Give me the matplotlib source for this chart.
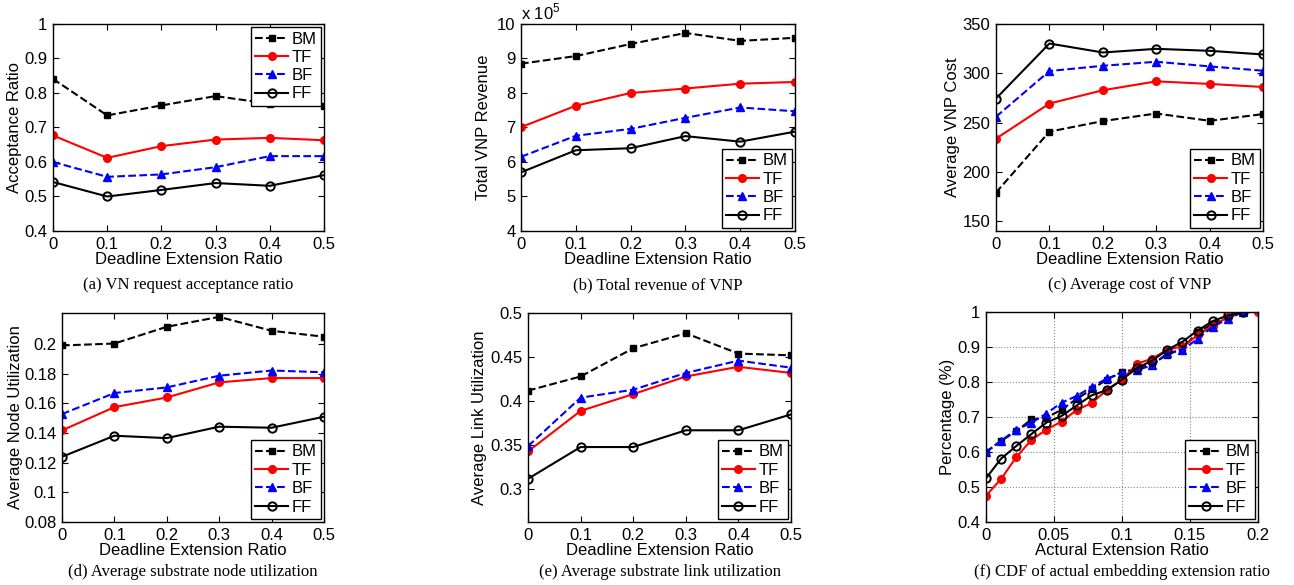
import numpy as np
import matplotlib
matplotlib.use("Agg")
import matplotlib.pyplot as plt

plt.rcParams["font.family"] = ["Liberation Sans", "DejaVu Sans"]
plt.rcParams["font.size"] = 12
plt.rcParams["mathtext.fontset"] = "custom"
plt.rcParams["mathtext.rm"] = "Liberation Sans"

# ---------------------------
# data
# ---------------------------
deadline_ratio = [0, 0.1, 0.2, 0.3, 0.4, 0.5]
deadline_ticks = ["0", "0.1", "0.2", "0.3", "0.4", "0.5"]
algos = ["BM", "TF", "BF", "FF"]

accept_bm = [0.841, 0.735, 0.764, 0.791, 0.769, 0.762]
accept_tf = [0.677, 0.612, 0.646, 0.665, 0.670, 0.663]
accept_bf = [0.600, 0.557, 0.564, 0.585, 0.617, 0.617]
accept_ff = [0.542, 0.500, 0.519, 0.539, 0.531, 0.562]

revenue_bm = [8.85, 9.07, 9.42, 9.74, 9.51, 9.60]
revenue_tf = [7.01, 7.63, 8.00, 8.13, 8.27, 8.32]
revenue_bf = [6.15, 6.76, 6.96, 7.28, 7.58, 7.47]
revenue_ff = [5.70, 6.34, 6.40, 6.75, 6.59, 6.88]

cost_bm = [179.0, 240.8, 251.5, 259.2, 251.8, 258.6]
cost_tf = [233.7, 269.3, 282.8, 291.8, 289.2, 286.1]
cost_bf = [255.9, 302.3, 307.6, 311.7, 307.0, 302.6]
cost_ff = [274.4, 330.2, 321.1, 324.8, 322.8, 319.1]

node_bm = [0.1991, 0.2004, 0.2117, 0.2184, 0.2090, 0.2050]
node_tf = [0.1418, 0.1575, 0.1640, 0.1742, 0.1771, 0.1771]
node_bf = [0.1528, 0.1670, 0.1708, 0.1787, 0.1822, 0.1810]
node_ff = [0.1240, 0.1382, 0.1366, 0.1443, 0.1436, 0.1510]

link_bm = [0.412, 0.428, 0.460, 0.477, 0.454, 0.452]
link_tf = [0.343, 0.389, 0.408, 0.428, 0.439, 0.432]
link_bf = [0.349, 0.404, 0.413, 0.432, 0.446, 0.438]
link_ff = [0.312, 0.348, 0.348, 0.367, 0.367, 0.385]

cdf_x = [0, 0.0111, 0.0222, 0.0333, 0.0444, 0.0556, 0.0667, 0.0778, 0.0889,
         0.1, 0.1111, 0.1222, 0.1333, 0.1444, 0.1556, 0.1667, 0.1778, 0.1889, 0.2]
cdf_bm = [0.600, 0.632, 0.659, 0.693, 0.698, 0.721, 0.752, 0.779, 0.807,
          0.829, 0.837, 0.853, 0.877, 0.896, 0.942, 0.966, 0.983, 1.0]
cdf_tf = [0.475, 0.523, 0.585, 0.634, 0.664, 0.687, 0.720, 0.740, 0.777,
          0.806, 0.852, 0.867, 0.892, 0.902, 0.933, 0.961, 0.985, 1.0, 1.0]
cdf_bf = [0.600, 0.632, 0.664, 0.683, 0.710, 0.741, 0.760, 0.786, 0.810,
          0.825, 0.834, 0.848, 0.882, 0.892, 0.923, 0.958, 0.980, 1.0]
cdf_ff = [0.525, 0.581, 0.617, 0.651, 0.684, 0.703, 0.733, 0.762, 0.777,
          0.807, 0.840, 0.861, 0.892, 0.915, 0.947, 0.974, 0.990, 1.0]

styles = {
    "BM": dict(color="black", ls="--", marker="s", ms=4.5, mfc="black", mec="black"),
    "TF": dict(color="red", ls="-", marker="o", ms=5.5, mfc="red", mec="red"),
    "BF": dict(color="blue", ls="--", marker="^", ms=6, mfc="blue", mec="blue"),
    "FF": dict(color="black", ls="-", marker="o", ms=6, mfc="none", mec="black", mew=1.4),
}

W, H = 1294, 585
fig = plt.figure(figsize=(W / 100, H / 100), dpi=100)


def px_axes(x0, x1, y0, y1):
    return fig.add_axes([x0 / W, 1 - y1 / H, (x1 - x0) / W, (y1 - y0) / H])


def draw(ax, xs, series, legend_loc):
    for name, ys in zip(algos, series):
        ax.plot(xs[:len(ys)], ys, lw=1.5, label=name, **styles[name])
    leg = ax.legend(loc=legend_loc, fontsize=12, fancybox=False, framealpha=1,
                    edgecolor="black", handlelength=2.0, borderpad=0.25,
                    labelspacing=0.2, handletextpad=0.2, borderaxespad=0.2)
    leg.get_frame().set_linewidth(1.0)
    ax.tick_params(direction="in", top=True, right=True, length=4, labelsize=12, pad=4)
    for s in ax.spines.values():
        s.set_linewidth(1.0)


def deadline_x(ax):
    ax.set_xlim(0, 0.5)
    ax.set_xticks(deadline_ratio)
    ax.set_xticklabels(deadline_ticks)
    ax.set_xlabel("Deadline Extension Ratio", labelpad=0)


def caption(ax, text, y):
    pos = ax.get_position()
    fig.text(pos.x0 + pos.width / 2, 1 - y / H, text, ha="center", va="center",
             family="Liberation Serif", fontsize=12)


# (a)
ax = px_axes(53, 324, 24, 231)
draw(ax, deadline_ratio, [accept_bm, accept_tf, accept_bf, accept_ff], "upper right")
deadline_x(ax)
ax.set_ylim(0.4, 1.0)
ax.set_yticks(np.arange(0.4, 1.01, 0.1))
ax.set_yticklabels(["0.4", "0.5", "0.6", "0.7", "0.8", "0.9", "1"])
ax.set_ylabel("Acceptance Ratio", labelpad=2)
caption(ax, "(a) VN request acceptance ratio", 285)

# (b)
ax = px_axes(521, 795, 24, 231)
draw(ax, deadline_ratio, [revenue_bm, revenue_tf, revenue_bf, revenue_ff], "lower right")
deadline_x(ax)
ax.set_ylim(4, 10)
ax.set_yticks(range(4, 11))
ax.set_ylabel("Total VNP Revenue", labelpad=4)
ax.text(0.0, 1.01, r"x 10$^{5}$", transform=ax.transAxes, ha="left", va="bottom", fontsize=12)
caption(ax, "(b) Total revenue of VNP", 285)

# (c)
ax = px_axes(996, 1263, 24, 231)
draw(ax, deadline_ratio, [cost_bm, cost_tf, cost_bf, cost_ff], "lower right")
deadline_x(ax)
ax.set_ylim(140, 350)
ax.set_yticks(range(150, 351, 50))
ax.set_ylabel("Average VNP Cost", labelpad=2)
caption(ax, "(c) Average cost of VNP", 285)

# (d)
ax = px_axes(62, 324, 313, 522)
draw(ax, deadline_ratio, [node_bm, node_tf, node_bf, node_ff], "lower right")
deadline_x(ax)
ax.set_ylim(0.08, 0.221)
ax.set_yticks([0.08, 0.1, 0.12, 0.14, 0.16, 0.18, 0.2])
ax.set_yticklabels(["0.08", "0.1", "0.12", "0.14", "0.16", "0.18", "0.2"])
ax.set_ylabel("Average Node Utilization", labelpad=1)
caption(ax, "(d) Average substrate node utilization", 572)

# (e)
ax = px_axes(528, 791, 313, 522)
draw(ax, deadline_ratio, [link_bm, link_tf, link_bf, link_ff], "lower right")
deadline_x(ax)
ax.set_ylim(0.263, 0.5)
ax.set_yticks([0.3, 0.35, 0.4, 0.45, 0.5])
ax.set_yticklabels(["0.3", "0.35", "0.4", "0.45", "0.5"])
ax.set_ylabel("Average Link Utilization", labelpad=2)
caption(ax, "(e) Average substrate link utilization", 572)

# (f)
ax = px_axes(986, 1258, 312, 522)
draw(ax, cdf_x, [cdf_bm, cdf_tf, cdf_bf, cdf_ff], "lower right")
ax.set_xlim(0, 0.2)
ax.set_ylim(0.4, 1.0)
ax.set_xticks([0, 0.05, 0.1, 0.15, 0.2])
ax.set_xticklabels(["0", "0.05", "0.1", "0.15", "0.2"])
ax.set_yticks(np.arange(0.4, 1.01, 0.1))
ax.set_yticklabels(["0.4", "0.5", "0.6", "0.7", "0.8", "0.9", "1"])
ax.grid(True, ls=":", color="#888888", lw=0.8)
ax.set_axisbelow(True)
ax.set_ylabel("Percentage (%)", labelpad=2)
ax.set_xlabel("Actural Extension Ratio", labelpad=0)
caption(ax, "(f) CDF of actual embedding extension ratio", 572)

fig.savefig("out.png", dpi=100)
